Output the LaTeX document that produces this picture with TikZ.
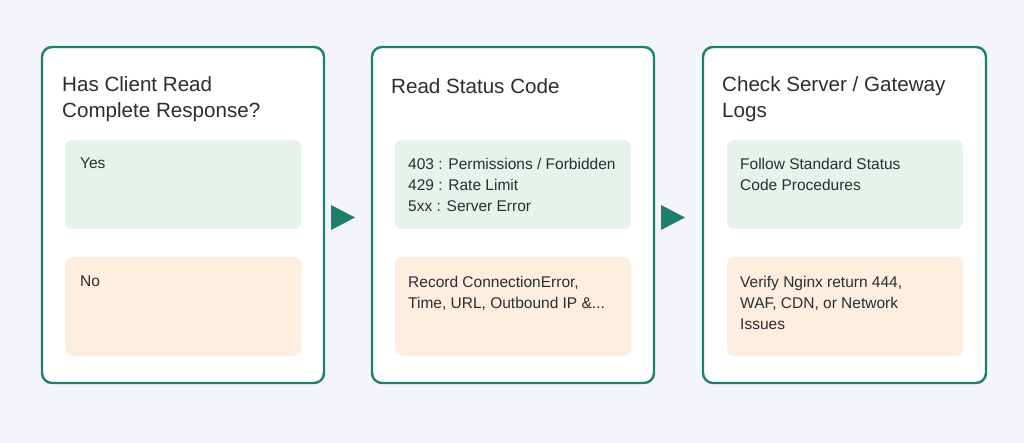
\documentclass[tikz,border=0pt]{standalone}
\usepackage{fontspec}
\setmainfont{Liberation Sans}
\usetikzlibrary{positioning}
\definecolor{bgcol}{HTML}{F3F5F8}
\definecolor{teal}{HTML}{1E7F6E}
\definecolor{yesbox}{HTML}{E5F3EA}
\definecolor{nobox}{HTML}{FDEEDF}
\definecolor{txt}{HTML}{2A2E33}
\tikzset{
  panel/.style={draw=teal, line width=2.4pt, fill=white, rounded corners=10pt},
  inner/.style={rounded corners=7pt},
  ttl/.style={anchor=west, align=left, font=\fontsize{20.6}{25.5}\selectfont, text=txt, inner sep=0pt},
  body/.style={anchor=north west, align=left, font=\fontsize{15.5}{21}\selectfont, text=txt, inner sep=0pt},
  flowtip/.style={fill=teal}
}
\begin{document}
\begin{tikzpicture}[x=1pt, y=-1pt]
    \fill[bgcol] (0,0) rectangle (1024,443);
    \useasboundingbox (0,0) rectangle (1024,443);
    % panels
    \draw[panel] (42,47) rectangle (324,383);
    \draw[panel] (372,47) rectangle (654,383);
    \draw[panel] (703,47) rectangle (986,383);
    % inner boxes
    \foreach \x in {65,395,727} {
      \fill[inner, yesbox] (\x,140) rectangle ++(236,89);
      \fill[inner, nobox] (\x,257) rectangle ++(236,99);
    }
    % arrows between panels
    \fill[flowtip] (331,205) -- (355,217.5) -- (331,230) -- cycle;
    \fill[flowtip] (661,205) -- (685,217.5) -- (661,230) -- cycle;
    % titles
    \node[ttl] (t1) at (62,99) {Has Client Read\\Complete Response?};
    \node[ttl] (t2) at (391,86) {Read Status Code};
    \node[ttl] (t3) at (722,99) {Check Server / Gateway\\Logs};
    % body texts
    \node[body] (yes1) at (80,158) {Yes};
    \node[body] (no1) at (80,276) {No};
    \node[body] (yes2) at (408,158) {403 : Permissions / Forbidden\\429 : Rate Limit\\5xx : Server Error};
    \node[body] (no2) at (408,276) {Record ConnectionError,\\Time, URL, Outbound IP \&...};
    \node[body] (yes3) at (740,158) {Follow Standard Status\\Code Procedures};
    \node[body] (no3) at (740,276) {Verify Nginx return 444,\\WAF, CDN, or Network\\Issues};
\end{tikzpicture}
\end{document}
